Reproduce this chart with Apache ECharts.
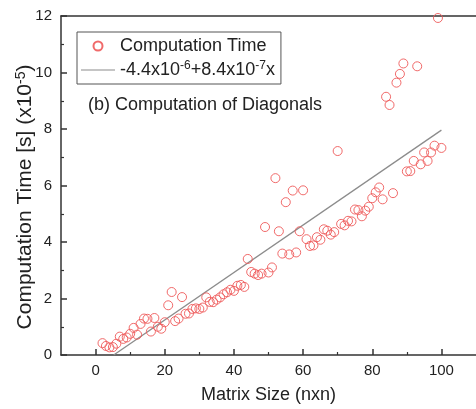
<!DOCTYPE html>
<html><head><meta charset="utf-8">
<script src="https://cdn.jsdelivr.net/npm/echarts@6/dist/echarts.min.js"></script>
<style>html,body{margin:0;padding:0;background:#fff}#c{width:476px;height:409px}</style>
</head><body><div id="c"></div>
<script>
const matrixSize = [2,3,4,5,6,7,8,9,10,11,12,13,14,15,16,17,18,19,20,21,22,23,24,25,26,27,28,29,30,
  31,32,33,34,35,36,37,38,39,40,41,42,43,44,45,46,47,48,49,50,51,52,53,54,55,56,57,58,59,60,
  61,62,63,64,65,66,67,68,69,70,71,72,73,74,75,76,77,78,79,80,81,82,83,84,85,86,87,88,89,90,
  91,92,93,94,95,96,97,98,99,100];
const compTime = [0.42,0.32,0.27,0.28,0.40,0.65,0.57,0.62,0.75,0.96,0.72,1.10,1.29,1.28,0.83,1.31,1.00,0.93,1.16,
  1.76,2.23,1.20,1.29,2.05,1.46,1.47,1.63,1.65,1.63,1.68,2.04,1.88,1.87,1.96,2.04,2.15,2.22,2.31,2.27,
  2.45,2.48,2.41,3.40,2.94,2.88,2.83,2.88,4.53,2.92,3.10,6.26,4.38,3.59,5.41,3.56,5.82,3.63,4.38,5.83,
  4.10,3.86,3.88,4.17,4.08,4.45,4.40,4.26,4.35,7.22,4.64,4.59,4.75,4.73,5.15,5.13,4.91,5.11,5.25,5.55,
  5.76,5.93,5.51,9.14,8.85,5.73,9.64,9.95,10.32,6.50,6.51,6.87,10.22,6.75,7.17,6.87,7.17,7.41,11.93,7.33];
const fitIntercept = -0.44;   // -4.4e-6 s in units of 1e-5
const fitSlope = 0.084;       // 8.4e-7 s per n in units of 1e-5
const fitXEnd = 100;
const xTicks = [0,20,40,60,80,100];
const xMinorTicks = [10,30,50,70,90];

const FONT = 'Liberation Sans, Arial, sans-serif';
const scatterData = matrixSize.map((n,i)=>[n, compTime[i]]);
const fitStart = -fitIntercept / fitSlope;
const fitData = [[fitStart, 0],[fitXEnd, fitIntercept + fitSlope*fitXEnd]];

const chart = echarts.init(document.getElementById('c'));
const axisColor = '#333';
const baseX = {type:'value', gridIndex:0, min:-10, max:110, splitLine:{show:false}};
chart.setOption({
  animation:false,
  grid:{left:61, top:16, width:426, height:341},
  xAxis:[
    Object.assign({}, baseX, {position:'bottom',
      axisLine:{onZero:false, lineStyle:{color:axisColor, width:1.5}},
      axisTick:{inside:true, length:6, customValues:xTicks, lineStyle:{color:axisColor, width:1.5}},
      axisLabel:{customValues:xTicks, fontSize:15, fontFamily:FONT, color:'#222', margin:8},
      name:'Matrix Size (nxn)', nameLocation:'middle', nameGap:31,
      nameTextStyle:{fontSize:18, fontFamily:FONT, color:'#222'}
    }),
    Object.assign({}, baseX, {position:'bottom',
      axisLine:{show:false, onZero:false},
      axisTick:{inside:true, length:3, customValues:xMinorTicks, lineStyle:{color:axisColor, width:1.2}},
      axisLabel:{show:false}
    }),
    Object.assign({}, baseX, {position:'top',
      axisLine:{onZero:false, lineStyle:{color:axisColor, width:1.5}},
      axisTick:{show:false}, axisLabel:{show:false}
    })
  ],
  yAxis:[{type:'value', min:0, max:12, interval:2, position:'left',
    axisLine:{show:true, onZero:false, lineStyle:{color:axisColor, width:1.5}},
    axisTick:{show:true, inside:true, length:6, lineStyle:{color:axisColor, width:1.5}},
    minorTick:{show:true, splitNumber:2, length:3, lineStyle:{color:axisColor, width:1.2}},
    axisLabel:{fontSize:15, fontFamily:FONT, color:'#222', margin:9},
    splitLine:{show:false}, minorSplitLine:{show:false}
  }],
  legend:{
    orient:'vertical', left:77, top:32,
    padding:[5,6,5,4], itemGap:5, itemWidth:34, itemHeight:9,
    borderColor:'#555', borderWidth:1,
    data:[{name:'Computation Time', icon:'circle'},
          {name:'fit', icon:'path://M0,0 L40,0 L40,1 L0,1 Z'}],
    formatter: name => name === 'fit'
      ? '{n|-4.4x10}{s|-6}{n|+8.4x10}{s|-7}{n|x}'
      : '{n|Computation Time}',
    textStyle:{fontFamily:FONT, color:'#222', rich:{
      n:{fontSize:18, lineHeight:20, fontFamily:FONT, color:'#222'},
      s:{fontSize:12, lineHeight:12, verticalAlign:'top', fontFamily:FONT, color:'#222'}
    }}
  },
  graphic:[
    {type:'text', left:88, top:96, style:{text:'(b) Computation of Diagonals', font:'18px ' + FONT, fill:'#222'}},
    {type:'text', x:25, y:197, rotation:Math.PI/2, style:{
      text:'{n|Computation Time [s] (x10}{s|-5}{n|)}', align:'center', verticalAlign:'middle', fill:'#222',
      rich:{
        n:{fontSize:21, lineHeight:22, fontFamily:FONT, fill:'#222'},
        s:{fontSize:14, lineHeight:13, verticalAlign:'top', fontFamily:FONT, fill:'#222'}
      }}}
  ],
  series:[
    {name:'Computation Time', type:'scatter', xAxisIndex:0, data:scatterData,
     symbol:'circle', symbolSize:9,
     itemStyle:{color:'rgba(255,255,255,0)', borderColor:'#ee5a5a', borderWidth:1, opacity:0.9}},
    {name:'fit', type:'line', xAxisIndex:0, data:fitData, symbol:'none',
     lineStyle:{color:'#8c8c8c', width:1.3}, itemStyle:{color:'#8c8c8c'}, z:1}
  ]
});
</script></body></html>
